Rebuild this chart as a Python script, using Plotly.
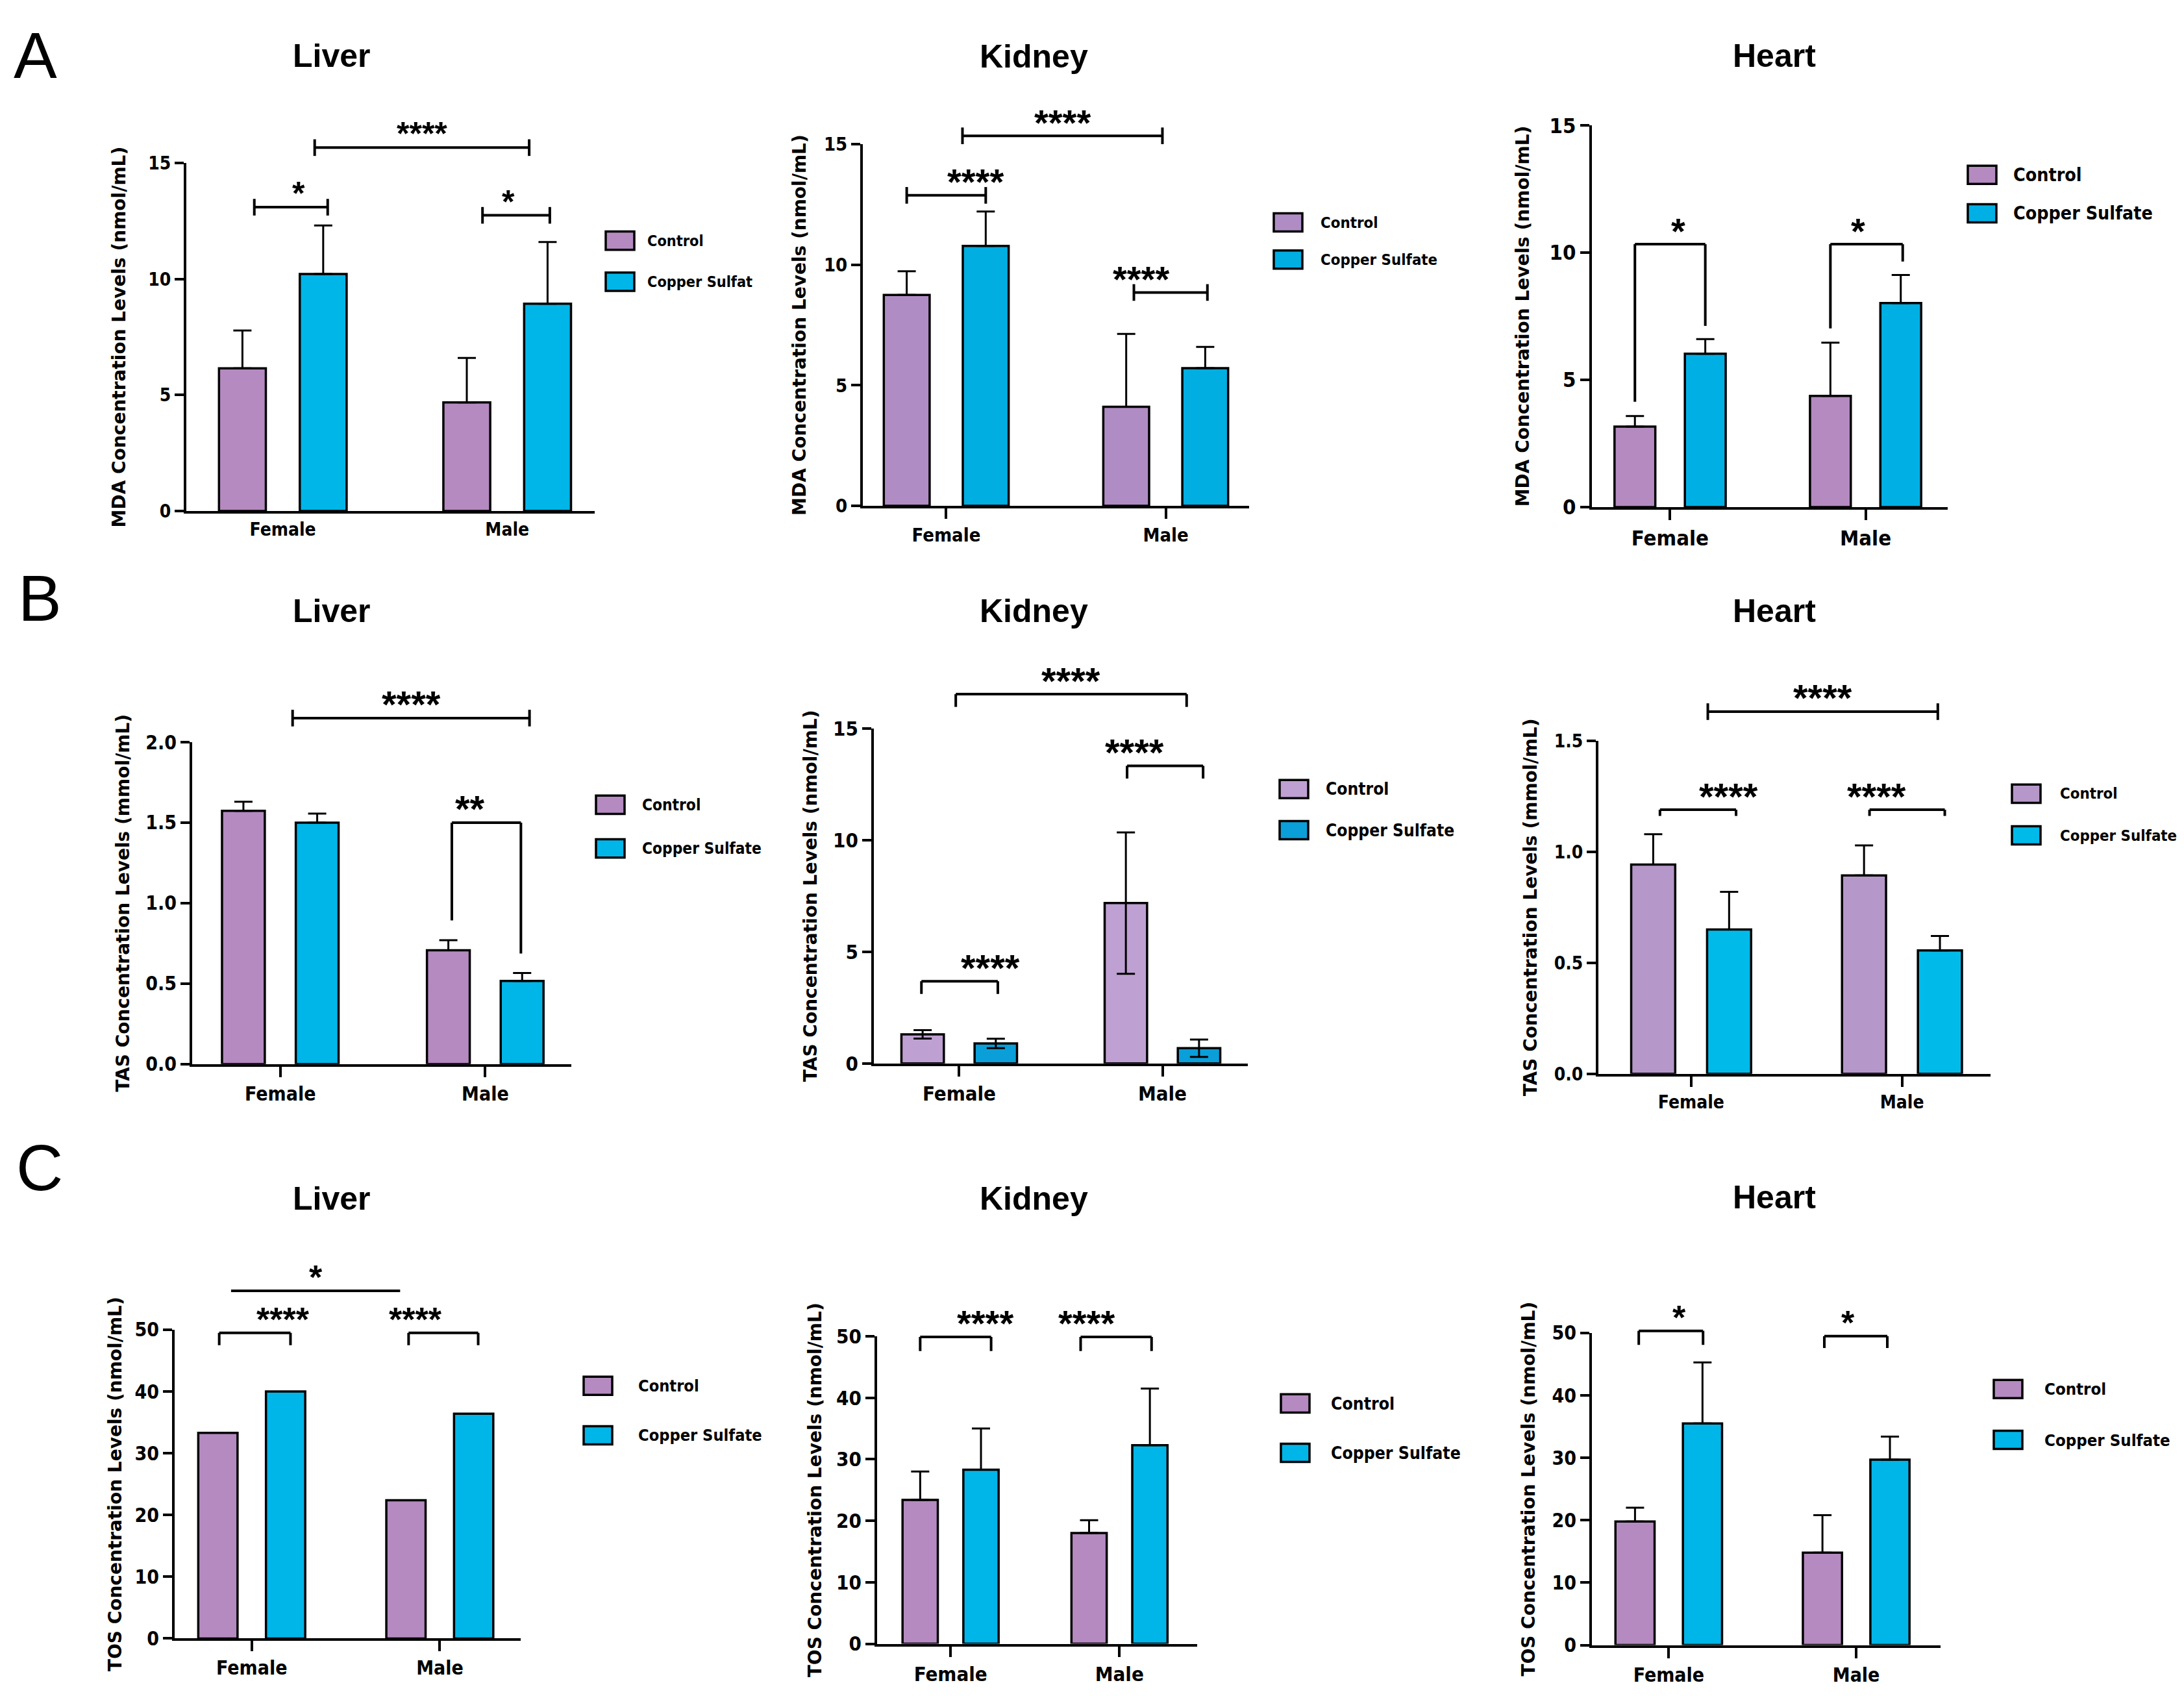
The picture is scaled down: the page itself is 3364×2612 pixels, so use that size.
import plotly.graph_objects as go

W, H = 3364, 2612

groups = ["Female", "Male"]

# MDA (row A)
mda_liver_ctrl = [6.15, 4.68]
mda_liver_ctrl_err = [1.63, 1.92]
mda_liver_cu = [10.22, 8.94]
mda_liver_cu_err = [2.09, 2.66]

mda_kidney_ctrl = [8.75, 4.11]
mda_kidney_ctrl_err = [0.98, 3.02]
mda_kidney_cu = [10.78, 5.71]
mda_kidney_cu_err = [1.43, 0.88]

mda_heart_ctrl = [3.16, 4.37]
mda_heart_ctrl_err = [0.42, 2.09]
mda_heart_cu = [6.03, 8.02]
mda_heart_cu_err = [0.57, 1.10]

# TAS (row B)
tas_liver_ctrl = [1.574, 0.707]
tas_liver_ctrl_err = [0.056, 0.063]
tas_liver_cu = [1.50, 0.516]
tas_liver_cu_err = [0.056, 0.05]

tas_kidney_ctrl = [1.30, 7.18]
tas_kidney_ctrl_err = [0.19, 3.17]
tas_kidney_cu = [0.89, 0.68]
tas_kidney_cu_err = [0.21, 0.39]

tas_heart_ctrl = [0.943, 0.894]
tas_heart_ctrl_err = [0.137, 0.135]
tas_heart_cu = [0.65, 0.556]
tas_heart_cu_err = [0.17, 0.065]

# TOS (row C)
tos_liver_ctrl = [33.3, 22.4]
tos_liver_cu = [40.0, 36.4]

tos_kidney_ctrl = [23.4, 18.0]
tos_kidney_ctrl_err = [4.6, 2.1]
tos_kidney_cu = [28.3, 32.3]
tos_kidney_cu_err = [6.7, 9.2]

tos_heart_ctrl = [19.8, 14.8]
tos_heart_ctrl_err = [2.2, 6.0]
tos_heart_cu = [35.5, 29.7]
tos_heart_cu_err = [9.8, 3.7]

# significance brackets: (x0, x1, y, style, left end y, right end y, label)
br_mda_liver = [(-0.127, 0.20, 13.1, "cap", 0, 0, "*"),
                (0.89, 1.19, 12.75, "cap", 0, 0, "*"),
                (0.142, 1.098, 15.67, "cap", 0, 0, "****")]
br_mda_kidney = [(-0.18, 0.18, 12.88, "cap", 0, 0, "****"),
                 (0.855, 1.19, 8.85, "cap", 0, 0, "****"),
                 (0.074, 0.985, 15.35, "cap", 0, 0, "****")]
br_mda_heart = [(-0.18, 0.18, 10.33, "down", 4.14, 7.12, "*"),
                (0.82, 1.19, 10.33, "down", 7.02, 9.65, "*")]
br_tas_liver = [(0.06, 1.216, 2.15, "cap", 0, 0, "****"),
                (0.837, 1.174, 1.50, "down", 0.893, 0.687, "**")]
br_tas_kidney = [(-0.017, 1.119, 16.54, "down", 15.97, 15.97, "****"),
                 (-0.186, 0.19, 3.68, "down", 3.11, 3.11, "****"),
                 (0.826, 1.2, 13.33, "down", 12.76, 12.76, "****")]
br_tas_heart = [(0.079, 1.17, 1.632, "cap", 0, 0, "****"),
                (-0.148, 0.213, 1.19, "down", 1.162, 1.162, "****"),
                (0.846, 1.203, 1.19, "down", 1.162, 1.162, "****")]
br_tos_liver = [(-0.11, 0.789, 56.3, "none", 0, 0, "*"),
                (-0.173, 0.206, 49.5, "down", 47.5, 47.5, "****"),
                (0.834, 1.204, 49.5, "down", 47.5, 47.5, "****")]
br_tos_kidney = [(-0.18, 0.24, 49.9, "down", 47.6, 47.6, "****"),
                 (0.77, 1.19, 49.9, "down", 47.6, 47.6, "****")]
br_tos_heart = [(-0.16, 0.183, 50.35, "down", 48.1, 48.1, "*"),
                (0.83, 1.166, 49.5, "down", 47.6, 47.6, "*")]

PURPLE = "#B48AC0"
BLUE = "#00B6E8"
FONT = "Liberation Sans"
LABEL_FONT = "DejaVu Sans Condensed, Liberation Sans"

MDA = "MDA Concentration Levels (nmol/mL)"

# box = (axis left px, axis right px, top px, bottom px); leg = (box x, control y, copper y, text x)
panels = [
    dict(title="Liver", ytitle=MDA, ymax=15, dtick=5, fmt="d",
         ctrl=mda_liver_ctrl, ctrl_err=mda_liver_ctrl_err, cu=mda_liver_cu, cu_err=mda_liver_cu_err,
         br=br_mda_liver, box=(287, 916, 254, 788), xr=[-0.43, 1.39], leg=(933, 373, 436, 995),
         cu_name="Copper Sulfat", fs=28, lfs=23.3, so=28, xticks=False, colors=(PURPLE, BLUE), star=50),
    dict(title="Kidney", ytitle=MDA, ymax=15, dtick=5, fmt="d",
         ctrl=mda_kidney_ctrl, ctrl_err=mda_kidney_ctrl_err, cu=mda_kidney_cu, cu_err=mda_kidney_cu_err,
         br=br_mda_kidney, box=(1329, 1924, 225, 780), xr=[-0.38, 1.38], leg=(1962, 345, 402, 2032),
         cu_name="Copper Sulfate", fs=29, lfs=23.8, so=20, xticks=True, colors=("#B08CC4", "#00AEE2"),
         star=56),
    dict(title="Heart", ytitle=MDA, ymax=15, dtick=5, fmt="d",
         ctrl=mda_heart_ctrl, ctrl_err=mda_heart_ctrl_err, cu=mda_heart_cu, cu_err=mda_heart_cu_err,
         br=br_mda_heart, box=(2452, 3000, 196, 782), xr=[-0.40, 1.42], leg=(3031, 272, 331, 3099),
         cu_name="Copper Sulfate", fs=32.7, lfs=28.4, so=24, xticks=True, colors=(PURPLE, "#00B0E4"),
         star=56),
    dict(title="Liver", ytitle="TAS Concentration Levels (mmol/mL)", ymax=2.0, dtick=0.5, fmt=".1f",
         ctrl=tas_liver_ctrl, ctrl_err=tas_liver_ctrl_err, cu=tas_liver_cu, cu_err=tas_liver_cu_err,
         br=br_tas_liver, box=(296, 880, 1143, 1637), xr=[-0.43, 1.42], leg=(918, 1239, 1306, 987),
         cu_name="Copper Sulfate", fs=30, lfs=24.3, so=17, xticks=True, colors=(PURPLE, BLUE), star=58),
    dict(title="Kidney", ytitle="TAS Concentration Levels (nmol/mL)", ymax=15, dtick=5, fmt="d",
         ctrl=tas_kidney_ctrl, ctrl_err=tas_kidney_ctrl_err, cu=tas_kidney_cu, cu_err=tas_kidney_cu_err,
         br=br_tas_kidney, box=(1346, 1922, 1122, 1636), xr=[-0.42, 1.42], leg=(1971, 1215, 1278, 2040),
         cu_name="Copper Sulfate", fs=31, lfs=26.2, so=17, xticks=True, colors=("#BFA0D2", "#0A9FD9"),
         star=58, sym=True),
    dict(title="Heart", ytitle="TAS Concentration Levels (mmol/mL)", ymax=1.5, dtick=0.5, fmt=".1f",
         ctrl=tas_heart_ctrl, ctrl_err=tas_heart_ctrl_err, cu=tas_heart_cu, cu_err=tas_heart_cu_err,
         br=br_tas_heart, box=(2462, 3066, 1141, 1652), xr=[-0.44, 1.42], leg=(3099, 1222, 1286, 3171),
         cu_name="Copper Sulfate", fs=28, lfs=23.8, so=19, xticks=True, colors=("#B597C9", "#00BBEA"),
         star=58),
    dict(title="Liver", ytitle="TOS Concentration Levels (nmol/mL)", ymax=50, dtick=10, fmt="d",
         ctrl=tos_liver_ctrl, ctrl_err=None, cu=tos_liver_cu, cu_err=None,
         br=br_tos_liver, box=(269, 802, 2045, 2519), xr=[-0.41, 1.43], leg=(899, 2131, 2207, 981),
         cu_name="Copper Sulfate", fs=30, lfs=25.2, so=13, xticks=True, colors=(PURPLE, BLUE), star=52),
    dict(title="Kidney", ytitle="TOS Concentration Levels (nmol/mL)", ymax=50, dtick=10, fmt="d",
         ctrl=tos_kidney_ctrl, ctrl_err=tos_kidney_ctrl_err, cu=tos_kidney_cu, cu_err=tos_kidney_cu_err,
         br=br_tos_kidney, box=(1351, 1844, 2055, 2527), xr=[-0.435, 1.46], leg=(1973, 2158, 2234, 2048),
         cu_name="Copper Sulfate", fs=31, lfs=26.4, so=15, xticks=True, colors=(PURPLE, BLUE), star=56),
    dict(title="Heart", ytitle="TOS Concentration Levels (nmol/mL)", ymax=50, dtick=10, fmt="d",
         ctrl=tos_heart_ctrl, ctrl_err=tos_heart_ctrl_err, cu=tos_heart_cu, cu_err=tos_heart_cu_err,
         br=br_tos_heart, box=(2452, 2989, 2050, 2529), xr=[-0.41, 1.45], leg=(3071, 2136, 2214, 3147),
         cu_name="Copper Sulfate", fs=30, lfs=25.6, so=19, xticks=True, colors=(PURPLE, BLUE), star=52),
]

title_pos = [(511, 89), (1592, 90), (2733, 89),
             (511, 942), (1592, 942), (2733, 942),
             (511, 1844), (1592, 1844), (2733, 1842)]


def px(x):
    return (x - 8) / W


def py(y):
    # small vertical fine-tuning of the placement
    return 1 - (1.018 * y - 31) / H


# panel letters: (text, x px, paper y, anchor)
letters = [("A", 54, 1.0, "top"), ("B", 61, py(922), "middle"), ("C", 61, py(1796), "middle")]

fig = go.Figure()
shapes, annos = [], []

for i, p in enumerate(panels):
    n = "" if i == 0 else str(i + 1)
    xa, ya = "x" + n, "y" + n
    c_ctrl, c_cu = p["colors"]
    sym = p.get("sym", False)

    for vals, err, name, col in [(p["ctrl"], p["ctrl_err"], "Control", c_ctrl),
                                 (p["cu"], p["cu_err"], p["cu_name"], c_cu)]:
        if err is None:
            ey = dict(visible=False)
        else:
            ey = dict(type="data", array=err, arrayminus=err if sym else [0] * len(err),
                      symmetric=False, color="black", thickness=3, width=14)
        fig.add_trace(go.Bar(x=groups, y=vals, name=name, error_y=ey,
                             marker=dict(color=col, line=dict(color="black", width=3.5)),
                             xaxis=xa, yaxis=ya, showlegend=False))

    x0, x1, ytop, ybot = p["box"]
    tickfont = dict(family=LABEL_FONT, size=p["fs"], color="black", weight="bold")
    fig.layout["xaxis" + n] = dict(
        domain=[px(x0), px(x1)], anchor=ya, type="category", range=p["xr"],
        showline=True, linecolor="black", linewidth=4,
        ticks="outside" if p["xticks"] else "", ticklen=16, tickwidth=4, tickcolor="black",
        tickfont=tickfont, showgrid=False, zeroline=False)
    fig.layout["yaxis" + n] = dict(
        domain=[py(ybot), py(ytop)], anchor=xa, range=[0, p["ymax"]], dtick=p["dtick"],
        tickformat=p["fmt"], showline=True, linecolor="black", linewidth=4,
        ticks="outside", ticklen=14, tickwidth=4, tickcolor="black",
        tickfont=tickfont, showgrid=False, zeroline=False,
        title=dict(text=p["ytitle"], standoff=p["so"],
                   font=dict(family="DejaVu Sans", size=28, color="black", weight="bold")))

    # brackets drawn in axis-domain units
    r0, r1 = p["xr"]
    hpx = (ybot - ytop) * 1.018
    dx = lambda v: (v - r0) / (r1 - r0)
    dy = lambda v: v / p["ymax"]
    line = dict(color="black", width=4)
    for bx0, bx1, by, style, yl, yr, label in p["br"]:
        ref = dict(xref=xa + " domain", yref=ya + " domain")
        shapes.append(dict(type="line", x0=dx(bx0), x1=dx(bx1), y0=dy(by), y1=dy(by), line=line, **ref))
        if style == "cap":
            h = 13 / hpx
            for bx in (bx0, bx1):
                shapes.append(dict(type="line", x0=dx(bx), x1=dx(bx), y0=dy(by) - h, y1=dy(by) + h,
                                   line=line, **ref))
        elif style == "down":
            for bx, ye in ((bx0, yl), (bx1, yr)):
                shapes.append(dict(type="line", x0=dx(bx), x1=dx(bx), y0=dy(ye), y1=dy(by),
                                   line=line, **ref))
        annos.append(dict(text=label, x=dx((bx0 + bx1) / 2), y=dy(by), xref=xa + " domain",
                          yref=ya + " domain", showarrow=False, yanchor="middle", yshift=21,
                          font=dict(family=FONT, size=p["star"], color="black", weight="bold")))

    # legend boxes
    lx, ly1, ly2, tx = p["leg"]
    for yc, col, name in ((ly1, c_ctrl, "Control"), (ly2, c_cu, p["cu_name"])):
        shapes.append(dict(type="rect", xref="paper", yref="paper",
                           x0=px(lx), x1=px(lx + 44), y0=py(yc + 14), y1=py(yc - 14),
                           fillcolor=col, line=dict(color="black", width=3.5)))
        annos.append(dict(text=name, x=px(tx), y=py(yc), xref="paper", yref="paper",
                          xanchor="left", yanchor="middle", showarrow=False,
                          font=dict(family=LABEL_FONT, size=p["lfs"], color="black", weight="bold")))

    tx_, ty_ = title_pos[i]
    annos.append(dict(text=p["title"], x=px(tx_), y=py(ty_), xref="paper", yref="paper",
                      showarrow=False, xanchor="center", yanchor="middle",
                      font=dict(family=FONT, size=50, color="black", weight="bold")))

for t, lx, ly, anchor in letters:
    annos.append(dict(text=t, x=px(lx), y=ly, xref="paper", yref="paper", showarrow=False,
                      xanchor="center", yanchor=anchor,
                      font=dict(family=FONT, size=100, color="black")))

fig.update_layout(
    width=W, height=H,
    margin=dict(l=0, r=0, t=0, b=0),
    paper_bgcolor="white", plot_bgcolor="white",
    barmode="group", bargap=0.28, bargroupgap=0.42,
    showlegend=False,
    shapes=shapes, annotations=annos,
)

fig.write_html("out.html")
